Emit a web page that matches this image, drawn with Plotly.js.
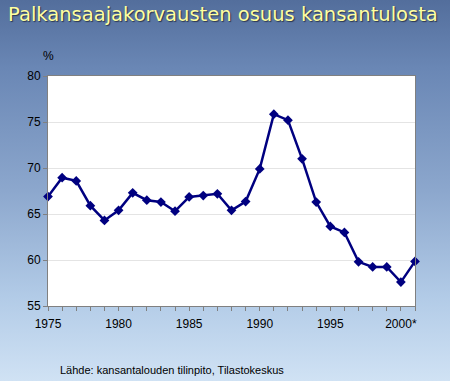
<!DOCTYPE html>
<html>
<head>
<meta charset="utf-8">
<script src="https://cdn.plot.ly/plotly-3.0.1.min.js"></script>
<style>
html, body { margin:0; padding:0; }
body { width:450px; height:381px; overflow:hidden;
  background: linear-gradient(to bottom, #536e9c 0%, #6a87b5 18%, #8ca7cd 50%, #b2cbe7 78%, #d0e2f4 100%); }
#chart { width:450px; height:381px; }
</style>
</head>
<body>
<div id="chart"></div>
<script>
const years = [1975,1976,1977,1978,1979,1980,1981,1982,1983,1984,1985,1986,1987,1988,1989,1990,1991,1992,1993,1994,1995,1996,1997,1998,1999,2000,2001];
const share = [66.9,68.95,68.6,65.9,64.3,65.4,67.3,66.5,66.3,65.3,66.85,67.0,67.2,65.4,66.35,69.9,75.85,75.2,71.0,66.3,63.65,63.0,59.8,59.25,59.25,57.6,59.85];
const xTickVals = [1975,1980,1985,1990,1995,2000];
const xTickText = ['1975','1980','1985','1990','1995','2000*'];
const titleText = 'Palkansaajakorvausten osuus kansantulosta';
const unitText = '%';
const sourceText = 'Lähde: kansantalouden tilinpito, Tilastokeskus';

const trace = {
  x: years, y: share, type: 'scatter', mode: 'lines+markers',
  line: {color: '#000080', width: 2.5},
  marker: {symbol: 'diamond', size: 7.5, color: '#000080'},
  cliponaxis: false, hoverinfo: 'x+y'
};

const layout = {
  width: 450, height: 381,
  paper_bgcolor: 'rgba(0,0,0,0)', plot_bgcolor: '#ffffff',
  margin: {l: 48, r: 35, t: 76, b: 75},
  showlegend: false,
  font: {family: 'Liberation Sans, Arial, sans-serif', size: 12, color: '#000000'},
  title: {
    text: titleText, xref: 'container', yref: 'container',
    x: 0.018, xanchor: 'left', y: 1 - 14/381, yanchor: 'middle',
    font: {family: 'DejaVu Sans, sans-serif', size: 19.5, color: '#ffffa0', shadow: '1px 1px 1px #2a3550'}
  },
  xaxis: {
    range: [1975, 2001], tickvals: xTickVals, ticktext: xTickText,
    ticks: 'outside', ticklen: 4, tickcolor: '#808080', tickwidth: 1,
    ticklabelstandoff: 3,
    minor: {dtick: 1, tick0: 1975, ticks: 'outside', ticklen: 4, tickcolor: '#808080', showgrid: false},
    showline: true, linecolor: '#808080', linewidth: 1, mirror: true,
    showgrid: false, zeroline: false, fixedrange: true,
    tickfont: {size: 12, color: '#000000'}
  },
  yaxis: {
    range: [55, 80], dtick: 5, tick0: 55,
    ticks: 'outside', ticklen: 4, tickcolor: '#808080',
    showline: true, linecolor: '#808080', linewidth: 1, mirror: true,
    showgrid: true, gridcolor: '#e4e4e4', zeroline: false, fixedrange: true,
    tickfont: {size: 12, color: '#000000'}
  },
  annotations: [
    {text: unitText, xref: 'paper', yref: 'paper', x: 0, y: 1, yshift: 20, xanchor: 'center', yanchor: 'middle', showarrow: false, font: {size: 12, color: '#000000'}},
    {text: sourceText, xref: 'paper', yref: 'paper', x: (57.5-48)/367, y: (306-370)/230, xanchor: 'left', yanchor: 'middle', showarrow: false, font: {size: 11, color: '#000000'}}
  ]
};

Plotly.newPlot('chart', [trace], layout, {displayModeBar: false, staticPlot: true});
</script>
</body>
</html>
